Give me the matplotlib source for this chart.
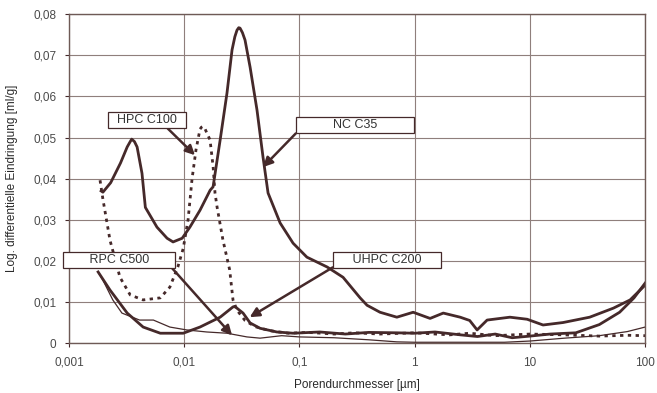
import numpy as np
import matplotlib.pyplot as plt
from matplotlib.ticker import FixedLocator, NullLocator

plt.rcParams['font.family'] = ['Liberation Sans', 'DejaVu Sans']

# pore diameter [um] / log. differential intrusion [ml/g]
nc_x = [0.0019, 0.00197, 0.0023, 0.0028, 0.0032, 0.0034, 0.0035, 0.0037, 0.0039, 0.0043, 0.0046,
        0.0058, 0.0071, 0.008, 0.0096, 0.0112, 0.0137, 0.0168, 0.0178, 0.0205,
        0.0235, 0.026, 0.0275, 0.0287, 0.0297, 0.0305, 0.032, 0.0337, 0.0373, 0.0428, 0.0483, 0.0534,
        0.068, 0.088, 0.116, 0.174, 0.239, 0.336, 0.386, 0.5, 0.7, 0.97, 1.36,
        1.77, 2.48, 3.0, 3.48, 4.25, 6.7, 9.45, 13.0, 19.4, 33.0, 53.0, 74.0, 100.0]
nc_y = [0.037, 0.0367, 0.039, 0.0438, 0.0477, 0.049, 0.0496, 0.049, 0.0477, 0.0413, 0.0330,
        0.0282, 0.0255, 0.0246, 0.0255, 0.0282, 0.0323, 0.0372, 0.038, 0.0494,
        0.0608, 0.0713, 0.0745, 0.0761, 0.0767, 0.0766, 0.0755, 0.0737, 0.0671, 0.0567, 0.0452, 0.0365,
        0.0292, 0.0243, 0.0209, 0.0185, 0.016, 0.011, 0.0092, 0.0075, 0.0063, 0.0075, 0.006,
        0.0073, 0.0063, 0.0055, 0.0032, 0.0056, 0.0063, 0.0058, 0.0044, 0.005, 0.0063, 0.0085, 0.0105, 0.0141]

hpc_x = [0.00186, 0.00197, 0.00227, 0.00277, 0.0034, 0.0044, 0.0062, 0.0075, 0.0088,
         0.0098, 0.0108, 0.0117, 0.01265, 0.0137, 0.0141, 0.01455, 0.0151, 0.01577, 0.01675, 0.0178,
         0.0185, 0.0193, 0.0217, 0.0248, 0.0265, 0.0287, 0.0337, 0.0412, 0.0556,
         0.08, 0.12, 0.2, 0.3, 0.5, 1.0, 2.0, 3.0, 5.0, 10.0, 20.0, 40.0, 70.0, 100.0]
hpc_y = [0.0396, 0.035, 0.025, 0.016, 0.0117, 0.0105, 0.011, 0.0136, 0.0185,
         0.023, 0.030, 0.040, 0.047, 0.052, 0.0525, 0.0527, 0.0522, 0.051, 0.0494, 0.043,
         0.0365, 0.033, 0.025, 0.0178, 0.0105, 0.008, 0.0055, 0.004, 0.003,
         0.0024, 0.0026, 0.0022, 0.0025, 0.0022, 0.0025, 0.002, 0.0024, 0.0018, 0.0022, 0.002, 0.0017, 0.0019, 0.0018]

uhpc_x = [0.00179, 0.00227, 0.0032, 0.0044, 0.0062, 0.0098, 0.0137, 0.0205, 0.0265,
          0.0275, 0.0324, 0.0373, 0.0455, 0.0637, 0.088, 0.15, 0.25, 0.4, 0.7, 1.0,
          1.5, 2.5, 3.5, 5.0, 7.0, 10.0, 15.0, 25.0, 40.0, 60.0, 80.0, 100.0]
uhpc_y = [0.0173, 0.0129, 0.0073, 0.0039, 0.0024, 0.0024, 0.0039, 0.0063, 0.0088,
          0.0089, 0.0073, 0.0049, 0.0036, 0.0027, 0.0024, 0.0027, 0.0022, 0.0026, 0.0025, 0.0024,
          0.0027, 0.002, 0.0016, 0.0022, 0.0013, 0.0017, 0.0022, 0.0025, 0.0045, 0.0075, 0.011, 0.0146]

rpc_x = [0.00179, 0.00197, 0.0024, 0.00288, 0.0041, 0.0054, 0.0075, 0.0105, 0.0157,
         0.0235, 0.035, 0.0455, 0.07, 0.1, 0.2, 0.4, 0.7, 1.0, 3.0, 6.0, 10.0,
         20.0, 40.0, 70.0, 100.0]
rpc_y = [0.0173, 0.0153, 0.0105, 0.0073, 0.0056, 0.0056, 0.0039, 0.0032, 0.0027,
         0.0024, 0.0015, 0.0012, 0.0018, 0.0015, 0.0013, 0.0008, 0.0003, 0.0002, 0.0002, 0.0002, 0.0005,
         0.0012, 0.0018, 0.0028, 0.0039]

# label text, text position, arrow tip
labels = ['  HPC C100  ', '          NC C35          ', '       RPC C500       ', '     UHPC C200     ']
label_pos = [(0.00475, 0.0542), (0.304, 0.053), (0.00272, 0.0202), (0.575, 0.0202)]
arrow_tip = [(0.0124, 0.0457), (0.0483, 0.0428), (0.026, 0.0019), (0.037, 0.0063)]
arrow_rel = [(0.75, 0.0), (0.0, 0.0), (0.97, 0.0), (0.0, 0.0)]

dark = '#45292a'
grid_c = '#8f7f7c'

fig = plt.figure(figsize=(6.57, 3.93), dpi=100)
ax = fig.add_axes([0.105, 0.127, 0.877, 0.837])

ax.plot(rpc_x, rpc_y, color=dark, lw=0.9)
ax.plot(uhpc_x, uhpc_y, color=dark, lw=2.0)
ax.plot(hpc_x, hpc_y, color=dark, lw=2.0, linestyle=(0, (1.2, 1.6)))
ax.plot(nc_x, nc_y, color=dark, lw=2.0)

ax.set_xscale('log')
ax.set_xlim(0.001, 100)
ax.set_ylim(0, 0.08)
xt = [0.001, 0.01, 0.1, 1, 10, 100]
ax.xaxis.set_major_locator(FixedLocator(xt))
ax.xaxis.set_minor_locator(NullLocator())
ax.set_xticklabels(['0,001', '0,01', '0,1', '1', '10', '100'])
yt = np.arange(0, 0.081, 0.01)
ax.set_yticks(yt)
ax.set_yticklabels(['0'] + [f'{v:.2f}'.replace('.', ',') for v in yt[1:]])
ax.tick_params(labelsize=8.5, labelcolor='#4a4a4a', color=dark, length=3, width=0.8)
ax.tick_params(axis='x', pad=7)
ax.tick_params(axis='y', pad=6)
ax.grid(True, color=grid_c, lw=0.8)
for s in ax.spines.values():
    s.set_color('#6e5a56')
    s.set_linewidth(1.0)

ax.set_xlabel('Porendurchmesser [µm]', fontsize=8.5, color='#2a2a2a', labelpad=7)
ax.set_ylabel('Log. differentielle Eindringung [ml/g]', fontsize=8.5, color='#2a2a2a', labelpad=11)

for txt, pos, tip, rel in zip(labels, label_pos, arrow_tip, arrow_rel):
    ax.annotate(txt, xy=tip, xytext=pos, fontsize=9, color='#333333',
                ha='center', va='center',
                bbox=dict(boxstyle='square,pad=0.15', fc='white', ec=dark, lw=0.9),
                arrowprops=dict(arrowstyle='-|>', color=dark, lw=1.8,
                                mutation_scale=14, relpos=rel, shrinkA=0, shrinkB=0))

fig.savefig('out.png', dpi=100)
